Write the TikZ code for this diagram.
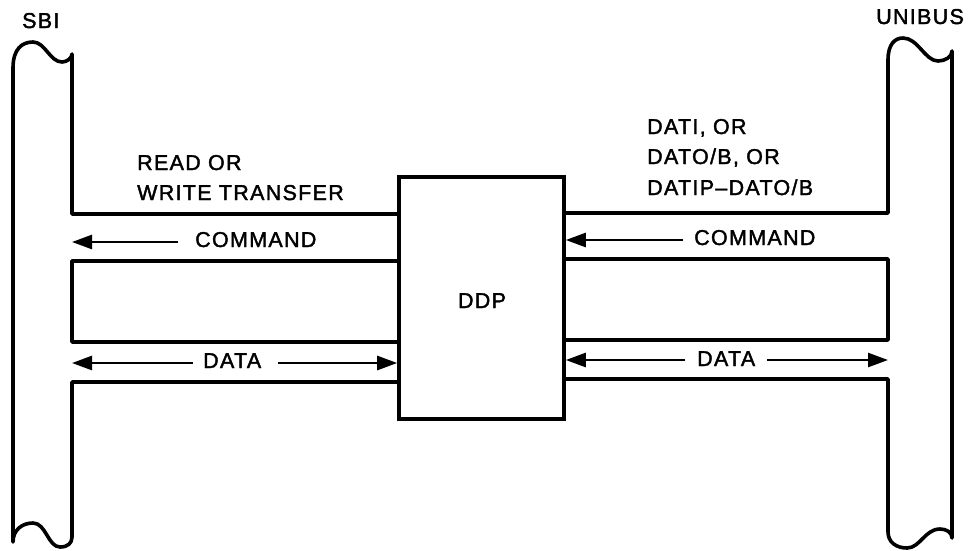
\documentclass[tikz,border=0pt]{standalone}
\usepackage{fontspec}
\newfontfamily\labfont{Liberation Sans}[LetterSpace=6,FakeBold=1.8]
\usetikzlibrary{arrows.meta}
\begin{document}
\begin{tikzpicture}[x=1pt,y=-1pt,
  outline/.style={line width=3.6pt,line join=round,line cap=round},
  arr/.style={line width=2.6pt,-{Triangle[length=20pt,width=14pt]}},
  lbl/.style={font=\labfont\fontsize{21.5}{30}\selectfont,inner sep=0pt,anchor=base west},
  boxstyle/.style={draw,line width=3.6pt,inner sep=0pt,minimum width=165pt,minimum height=242pt}]
\useasboundingbox (0,0) rectangle (969,550);

% DDP block
\node[boxstyle] (ddp) at (481.5,298) {};
\node[lbl,anchor=base] (ddptxt) at (482,308) {DDP};

% left bus (SBI)
\draw[outline] (ddp.west |- 0,214) -- (72,214) -- (72,54)
  .. controls (72,58) and (67,62) .. (62,62)
  .. controls (50,62) and (45,42) .. (33,42)
  .. controls (22,42) and (13,49) .. (13,68)
  -- (13,542)
  .. controls (13,530) and (22,523) .. (33,523)
  .. controls (46,523) and (48,547) .. (60,547)
  .. controls (68,547) and (72,543) .. (72,537)
  -- (72,382) -- (ddp.west |- 0,382);
\draw[outline] (ddp.west |- 0,261) -- (72,261) -- (72,342) -- (ddp.west |- 0,342);

% right bus (UNIBUS)
\draw[outline] (ddp.east |- 0,213) -- (888,213) -- (888,60)
  .. controls (888,44) and (895,38) .. (903,38)
  .. controls (918,38) and (925,61) .. (938,61)
  .. controls (945,61) and (952,57) .. (952,51)
  -- (952,538)
  .. controls (952,532) and (946,529) .. (940,529)
  .. controls (925,529) and (920,548) .. (907,548)
  .. controls (896,548) and (888,542) .. (888,532)
  -- (888,379) -- (ddp.east |- 0,379);
\draw[outline] (ddp.east |- 0,259) -- (888,259) -- (888,340) -- (ddp.east |- 0,340);

% labels
\node[lbl] (sbi) at (22,28) {SBI};
\node[lbl] (unibus) at (876,24) {UNIBUS};
\node[lbl] (read) at (137,170) {READ OR};
\node[lbl] (write) at (137,200) {WRITE TRANSFER};
\node[lbl] (dati) at (647,134) {DATI, OR};
\node[lbl] (dato) at (647,164) {DATO/B, OR};
\node[lbl] (datip) at (647,195) {DATIP–DATO/B};
\node[lbl] (lcmd) at (195,247) {COMMAND};
\node[lbl] (ldata) at (203,368) {DATA};
\node[lbl] (rcmd) at (694,245) {COMMAND};
\node[lbl] (rdata) at (697,366) {DATA};

% connector end points
\coordinate (lbusc) at (72,242);
\coordinate (lbusd) at (72,363);
\coordinate (rbusd) at (888,360);

% arrows
\draw[arr] (lcmd.west |- 0,242) ++(-17,0) coordinate (lc1) -- (lbusc);
\draw[arr] (ldata.west |- 0,363) ++(-10,0) coordinate (ld1) -- (lbusd);
\draw[arr] (ldata.east |- 0,363) ++(17,0) coordinate (ld2) -- (ddp.west |- 0,363);
\draw[arr] (rcmd.west |- 0,240) ++(-11,0) coordinate (rc1) -- (ddp.east |- 0,240);
\draw[arr] (rdata.west |- 0,360) ++(-12,0) coordinate (rd1) -- (ddp.east |- 0,360);
\draw[arr] (rdata.east |- 0,360) ++(12,0) coordinate (rd2) -- (rbusd);
\end{tikzpicture}
\end{document}
